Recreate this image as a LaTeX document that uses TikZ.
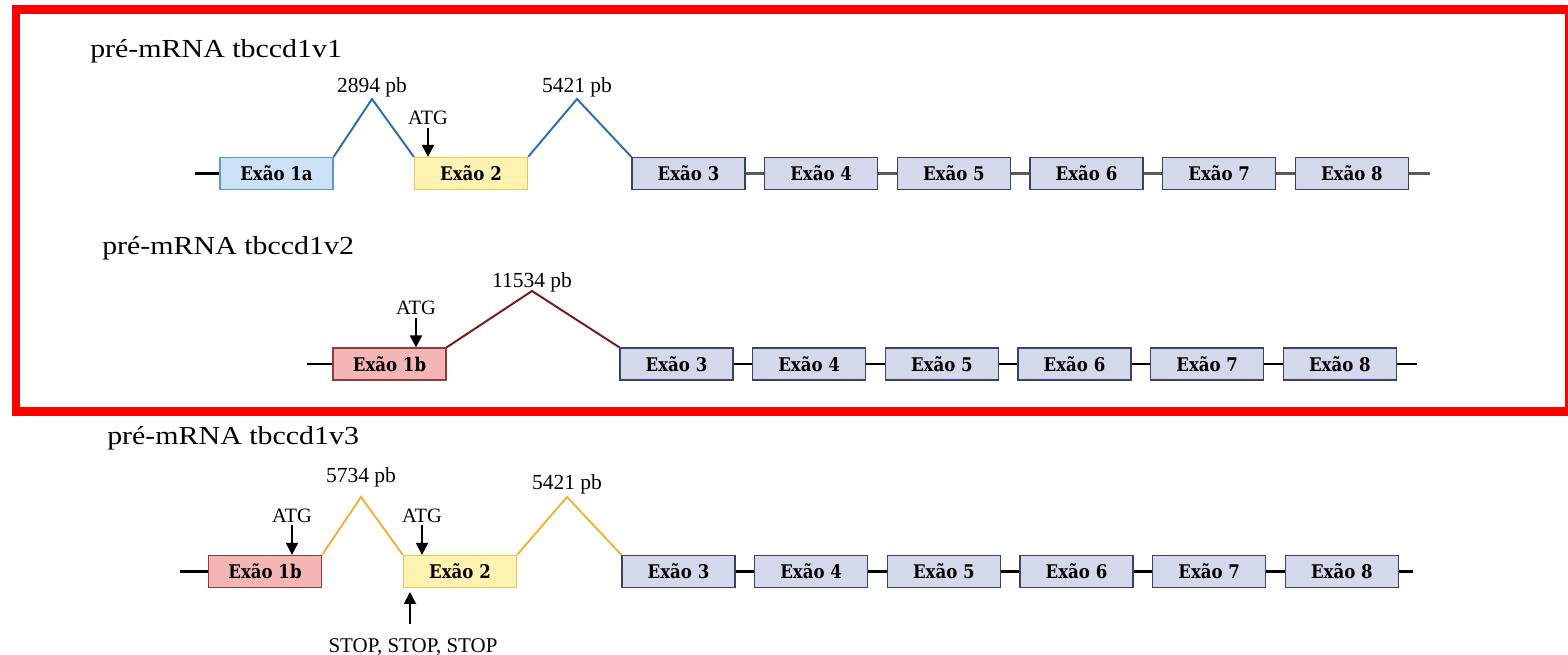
\documentclass[tikz,border=0pt]{standalone}
\usepackage{graphicx}
\usepackage{fontspec}
\setmainfont{Liberation Serif}
\newfontfamily\exonfont{DejaVu Serif}[FakeStretch=0.88]
\usetikzlibrary{arrows.meta,positioning}

\definecolor{frame red}{HTML}{FF0000}
\definecolor{grey fill}{HTML}{D3D8EB}
\definecolor{grey line}{HTML}{3B4266}
\definecolor{blue fill}{HTML}{CCE1F6}
\definecolor{blue line}{HTML}{5E97D0}
\definecolor{blue intron}{HTML}{2F6EA8}
\definecolor{yellow fill}{HTML}{FFF3B2}
\definecolor{yellow line}{HTML}{F0C64E}
\definecolor{yellow intron}{HTML}{EBB73A}
\definecolor{red fill}{HTML}{F4B5B5}
\definecolor{red line}{HTML}{8E3B3B}
\definecolor{red intron}{HTML}{6E1E1E}

\begin{document}
\begin{tikzpicture}[
    x=0.25mm, y=-0.25mm,
    node distance=4.6mm,
    title/.style={anchor=base west, inner sep=0pt, font=\fontsize{18.5}{22}\selectfont},
    exon/.style={draw, line width=0.9pt, minimum width=28.25mm, minimum height=8mm,
      inner sep=0pt, font=\exonfont\bfseries\fontsize{13.4}{15}\selectfont},
    exon grey/.style={exon, fill=grey fill, draw=grey line},
    exon blue/.style={exon, fill=blue fill, draw=blue line},
    exon yellow/.style={exon, fill=yellow fill, draw=yellow line},
    exon red/.style={exon, fill=red fill, draw=red line},
    intron/.style={line width=1.4pt},
    pb/.style={inner sep=0pt, font=\fontsize{15.3}{18}\selectfont},
    link/.style={line width=1.6pt, black},
    atg label/.style={anchor=base, inner xsep=0pt, inner ysep=2pt, font=\fontsize{14.5}{17}\selectfont},
    atg/.style={line width=1.4pt, -{Triangle[length=8.5pt,width=8.5pt]}},
  ]
  \useasboundingbox (0,0) rectangle (1568,655);

  % frame round the first two variants
  \draw [line width=5.7pt, frame red] (16,9.5) rectangle (1569,411.5);

  % tbccd1v1
  \node [title] at (90,58) {\scalebox{1.15}[1]{pré-mRNA tbccd1v1}};

  \coordinate (v1 start) at (195,173.5);
  \coordinate (v1 end) at (1430,173.5);
  \coordinate (v1 peak a) at (372,99);
  \coordinate (v1 peak b) at (577,99);

  \node [exon blue] (v1 ex1a) at (276.5,173.5) {Exão 1a};
  \node [exon yellow] (v1 ex2) at (471,173.5) {Exão 2};
  \node [exon grey] (v1 ex3) at (688.5,173.5) {Exão 3};
  \node [exon grey, right=of v1 ex3] (v1 ex4) {Exão 4};
  \node [exon grey, right=of v1 ex4] (v1 ex5) {Exão 5};
  \node [exon grey, right=of v1 ex5] (v1 ex6) {Exão 6};
  \node [exon grey, right=of v1 ex6] (v1 ex7) {Exão 7};
  \node [exon grey, right=of v1 ex7] (v1 ex8) {Exão 8};

  \draw [line width=2pt]
    (v1 start) -- (v1 ex1a)
  ;
  \draw [line width=1.5pt, black!65]
    (v1 ex3) -- (v1 ex4)
    (v1 ex4) -- (v1 ex5)
    (v1 ex5) -- (v1 ex6)
    (v1 ex6) -- (v1 ex7)
    (v1 ex7) -- (v1 ex8)
    (v1 ex8) -- (v1 end)
  ;

  \draw [intron, blue intron]
    (v1 ex1a.north east)
    -- (v1 peak a)
      node [above=1pt, pb, black] {2894 pb}
    -- (v1 ex2.north west)
  ;
  \draw [intron, blue intron]
    (v1 ex2.north east)
    -- (v1 peak b)
      node [above=1pt, pb, black] {5421 pb}
    -- (v1 ex3.north west)
  ;

  \node [atg label] (v1 atg) at (428,125) {ATG};
  \draw [atg] (v1 atg) -- (v1 atg |- v1 ex2.north);

  % tbccd1v2
  \node [title] at (102,255) {\scalebox{1.15}[1]{pré-mRNA tbccd1v2}};

  \coordinate (v2 start) at (307,364);
  \coordinate (v2 end) at (1417,364);
  \coordinate (v2 peak) at (532,291);

  \node [exon red] (v2 ex1b) at (389.5,364) {Exão 1b};
  \node [exon grey] (v2 ex3) at (676.5,364) {Exão 3};
  \node [exon grey, right=of v2 ex3] (v2 ex4) {Exão 4};
  \node [exon grey, right=of v2 ex4] (v2 ex5) {Exão 5};
  \node [exon grey, right=of v2 ex5] (v2 ex6) {Exão 6};
  \node [exon grey, right=of v2 ex6] (v2 ex7) {Exão 7};
  \node [exon grey, right=of v2 ex7] (v2 ex8) {Exão 8};

  \draw [link]
    (v2 start) -- (v2 ex1b)
    (v2 ex3) -- (v2 ex4)
    (v2 ex4) -- (v2 ex5)
    (v2 ex5) -- (v2 ex6)
    (v2 ex6) -- (v2 ex7)
    (v2 ex7) -- (v2 ex8)
    (v2 ex8) -- (v2 end)
  ;

  \draw [intron, red intron]
    (v2 ex1b.north east)
    -- (v2 peak)
      node [above=-1.5pt, pb, black] {11534 pb}
    -- (v2 ex3.north west)
  ;

  \node [atg label] (v2 atg) at (416,315) {ATG};
  \draw [atg] (v2 atg) -- (v2 atg |- v2 ex1b.north);

  % tbccd1v3
  \node [title] at (107,444) {\scalebox{1.15}[1]{pré-mRNA tbccd1v3}};

  \coordinate (v3 start) at (180,571.5);
  \coordinate (v3 end) at (1413,571.5);
  \coordinate (v3 peak a) at (361,497);
  \coordinate (v3 peak b) at (567,497);

  \node [exon red] (v3 ex1b) at (265,571.5) {Exão 1b};
  \node [exon yellow] (v3 ex2) at (460,571.5) {Exão 2};
  \node [exon grey] (v3 ex3) at (678.5,571.5) {Exão 3};
  \node [exon grey, right=of v3 ex3] (v3 ex4) {Exão 4};
  \node [exon grey, right=of v3 ex4] (v3 ex5) {Exão 5};
  \node [exon grey, right=of v3 ex5] (v3 ex6) {Exão 6};
  \node [exon grey, right=of v3 ex6] (v3 ex7) {Exão 7};
  \node [exon grey, right=of v3 ex7] (v3 ex8) {Exão 8};

  \draw [link]
    (v3 start) -- (v3 ex1b)
    (v3 ex3) -- (v3 ex4)
    (v3 ex4) -- (v3 ex5)
    (v3 ex5) -- (v3 ex6)
    (v3 ex6) -- (v3 ex7)
    (v3 ex7) -- (v3 ex8)
    (v3 ex8) -- (v3 end)
  ;

  \draw [intron, yellow intron]
    (v3 ex1b.north east)
    -- (v3 peak a)
      node [above=6.5pt, pb, black] {5734 pb}
    -- (v3 ex2.north west)
  ;
  \draw [intron, yellow intron]
    (v3 ex2.north east)
    -- (v3 peak b)
      node [above=1.5pt, pb, black] {5421 pb}
    -- (v3 ex3.north west)
  ;

  \node [atg label] (v3 atg a) at (292,522) {ATG};
  \draw [atg] (v3 atg a) -- (v3 atg a |- v3 ex1b.north);
  \node [atg label] (v3 atg b) at (422,522) {ATG};
  \draw [atg] (v3 atg b) -- (v3 atg b |- v3 ex2.north);

  \node [anchor=base, inner xsep=0pt, inner ysep=10pt, font=\fontsize{14.9}{17}\selectfont]
    (v3 stop) at (413,652) {STOP, STOP, STOP};
  \coordinate (v3 stop tip) at (410,592);
  \draw [atg] (v3 stop.north -| v3 stop tip) -- (v3 stop tip);
\end{tikzpicture}
\end{document}
